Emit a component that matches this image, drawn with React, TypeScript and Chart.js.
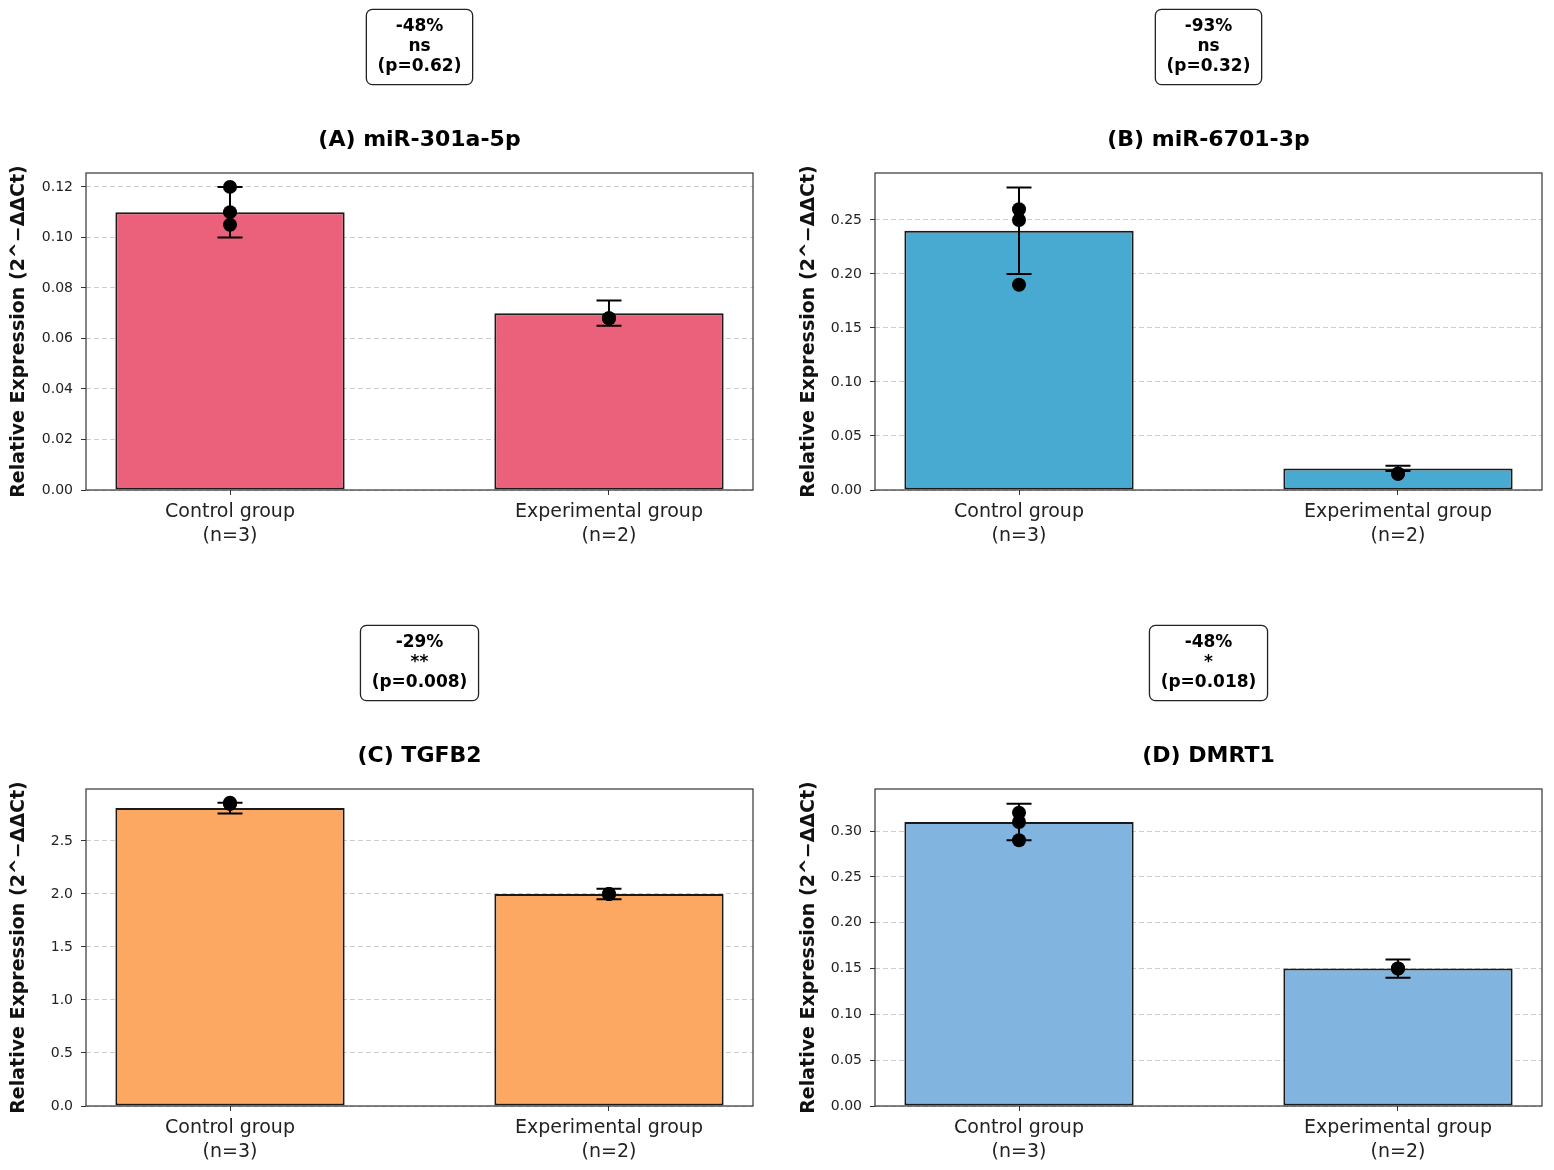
import React, { useEffect, useRef } from "react";
import { Chart, registerables } from "chart.js";

Chart.register(...registerables);

const FONT = "'DejaVu Sans', 'Liberation Sans', sans-serif";

// ---- data ----
const categories = ["Control group", "Experimental group"];
const groupSizes = ["(n=3)", "(n=2)"];
const xPositions = [0, 1];

const titles = ["(A) miR-301a-5p", "(B) miR-6701-3p", "(C) TGFB2", "(D) DMRT1"];
const changeLabels = ["-48%", "-93%", "-29%", "-48%"];
const sigLabels = ["ns", "ns", "**", "*"];
const pLabels = ["(p=0.62)", "(p=0.32)", "(p=0.008)", "(p=0.018)"];
const barColors = ["#EB607A", "#48AAD1", "#FDA862", "#82B4E0"];
const yAxisTitle = "Relative Expression (2^\u2212\u0394\u0394Ct)";

const meansA = [0.11, 0.07];
const sdA = [0.01, 0.005];
const ctrlPointsA = [0.12, 0.11, 0.105];
const expPointsA = [0.068, 0.068];
const yMaxA = 0.1255;
const yTicksA = [0, 0.02, 0.04, 0.06, 0.08, 0.1, 0.12];

const meansB = [0.24, 0.02];
const sdB = [0.04, 0.0025];
const ctrlPointsB = [0.26, 0.25, 0.19];
const expPointsB = [0.015, 0.015];
const yMaxB = 0.2935;
const yTicksB = [0, 0.05, 0.1, 0.15, 0.2, 0.25];

const meansC = [2.81, 2.0];
const sdC = [0.05, 0.05];
const ctrlPointsC = [2.86, 2.85, 2.85];
const expPointsC = [2.0, 2.0];
const yMaxC = 2.99;
const yTicksC = [0, 0.5, 1.0, 1.5, 2.0, 2.5];

const meansD = [0.31, 0.15];
const sdD = [0.02, 0.01];
const ctrlPointsD = [0.32, 0.31, 0.29];
const expPointsD = [0.15, 0.15];
const yMaxD = 0.346;
const yTicksD = [0, 0.05, 0.1, 0.15, 0.2, 0.25, 0.3];

const tickDecimals = [2, 2, 1, 2];

const panels = [
  { means: meansA, sd: sdA, ctrl: ctrlPointsA, exp: expPointsA, yMax: yMaxA, yTicks: yTicksA },
  { means: meansB, sd: sdB, ctrl: ctrlPointsB, exp: expPointsB, yMax: yMaxB, yTicks: yTicksB },
  { means: meansC, sd: sdC, ctrl: ctrlPointsC, exp: expPointsC, yMax: yMaxC, yTicks: yTicksC },
  { means: meansD, sd: sdD, ctrl: ctrlPointsD, exp: expPointsD, yMax: yMaxD, yTicks: yTicksD },
];

const CANVAS_W = 777;
const CANVAS_H = 585;

function Panel({ idx }: { idx: number }) {
  const ref = useRef<HTMLCanvasElement | null>(null);

  useEffect(() => {
    if (!ref.current) return;
    const p = panels[idx];
    const col = idx % 2;
    const row = Math.floor(idx / 2);
    const yWidth = col === 0 ? 86 : 98;
    const padRight = col === 0 ? 24 : 12;
    const padTop = row === 0 ? 173 : 204;
    const xHeight = row === 0 ? 95 : 64;
    const yTitlePad = col === 0 ? 7.6 : 20.9;

    const points = [
      ...p.ctrl.map((v) => ({ x: xPositions[0], y: v })),
      ...p.exp.map((v) => ({ x: xPositions[1], y: v })),
    ];

    const errPlugin = {
      id: "errbars" + idx,
      afterDatasetDraw(chart: any, args: any) {
        if (args.index !== 0) return;
        const { ctx } = chart;
        const xs = chart.scales.x;
        const ys = chart.scales.y;
        ctx.save();
        ctx.strokeStyle = "#000";
        ctx.lineWidth = 2;
        p.means.forEach((m: number, i: number) => {
          const px = xs.getPixelForValue(xPositions[i]);
          const yt = ys.getPixelForValue(m + p.sd[i]);
          const yb = ys.getPixelForValue(m - p.sd[i]);
          const cap = 12.5;
          ctx.beginPath();
          ctx.moveTo(px, yt);
          ctx.lineTo(px, yb);
          ctx.moveTo(px - cap, yt);
          ctx.lineTo(px + cap, yt);
          ctx.moveTo(px - cap, yb);
          ctx.lineTo(px + cap, yb);
          ctx.stroke();
        });
        ctx.restore();
      },
    };

    const decorPlugin = {
      id: "decor" + idx,
      afterDraw(chart: any) {
        const { ctx, chartArea } = chart;
        const { left, right, top, bottom } = chartArea;
        ctx.save();
        // frame
        ctx.strokeStyle = "#333";
        ctx.lineWidth = 1.2;
        ctx.strokeRect(left, top, right - left, bottom - top);

        const cx = (left + right) / 2;
        // title
        ctx.fillStyle = "#000";
        ctx.textAlign = "center";
        ctx.textBaseline = "middle";
        ctx.font = `bold 22px ${FONT}`;
        ctx.fillText(titles[idx], cx, top - 33);

        // annotation box
        ctx.font = `bold 17px ${FONT}`;
        const lines = [changeLabels[idx], sigLabels[idx], pLabels[idx]];
        const centers = [top - 146.3, top - 126.3, top - 106];
        const maxW = Math.max(...lines.map((l) => ctx.measureText(l).width));
        const bw = maxW + 22.4;
        const bx = cx - bw / 2;
        const by = centers[0] - 17.3;
        const bh = centers[2] + 17.6 - by;
        const r = 6;
        ctx.beginPath();
        ctx.moveTo(bx + r, by);
        ctx.lineTo(bx + bw - r, by);
        ctx.arcTo(bx + bw, by, bx + bw, by + r, r);
        ctx.lineTo(bx + bw, by + bh - r);
        ctx.arcTo(bx + bw, by + bh, bx + bw - r, by + bh, r);
        ctx.lineTo(bx + r, by + bh);
        ctx.arcTo(bx, by + bh, bx, by + bh - r, r);
        ctx.lineTo(bx, by + r);
        ctx.arcTo(bx, by, bx + r, by, r);
        ctx.closePath();
        ctx.fillStyle = "#fff";
        ctx.fill();
        ctx.strokeStyle = "#222";
        ctx.lineWidth = 1.3;
        ctx.stroke();
        ctx.fillStyle = "#000";
        lines.forEach((l, i) => ctx.fillText(l, cx, centers[i]));
        ctx.restore();
      },
    };

    const chart = new Chart(ref.current, {
      type: "bar",
      data: {
        datasets: [
          {
            type: "bar",
            data: p.means.map((m: number, i: number) => ({ x: xPositions[i], y: m })),
            backgroundColor: barColors[idx],
            borderColor: "#1a1a1a",
            borderWidth: 2,
            borderSkipped: false,
            barPercentage: 0.605,
            categoryPercentage: 1.0,
            order: 2,
          } as any,
          {
            type: "scatter",
            data: points,
            pointRadius: 7,
            pointHoverRadius: 7,
            pointBackgroundColor: "#000",
            pointBorderColor: "#000",
            pointBorderWidth: 0,
            showLine: false,
            order: 0,
          } as any,
        ],
      },
      options: {
        animation: false,
        responsive: false,
        maintainAspectRatio: false,
        events: [],
        layout: { padding: { top: padTop, right: padRight, bottom: 0, left: 0 } },
        plugins: {
          legend: { display: false },
          tooltip: { enabled: false },
          title: { display: false },
        },
        scales: {
          x: {
            type: "linear",
            min: -0.38,
            max: 1.38,
            offset: false,
            afterBuildTicks: (s: any) => {
              s.ticks = xPositions.map((v) => ({ value: v }));
            },
            afterFit: (s: any) => {
              s.height = xHeight;
            },
            ticks: {
              autoSkip: false,
              maxRotation: 0,
              minRotation: 0,
              padding: 5,
              color: "#222",
              font: { family: FONT, size: 19, lineHeight: 1.25 },
              callback: (_v: any, i: number) => [categories[i], groupSizes[i]],
            },
            grid: {
              offset: false,
              drawOnChartArea: false,
              drawTicks: true,
              tickLength: 5,
              tickColor: "#333",
              tickWidth: 1,
            },
            border: { display: false },
          } as any,
          y: {
            type: "linear",
            min: 0,
            max: p.yMax,
            afterBuildTicks: (s: any) => {
              s.ticks = p.yTicks.map((v: number) => ({ value: v }));
            },
            afterFit: (s: any) => {
              s.width = yWidth;
            },
            ticks: {
              padding: 8,
              color: "#222",
              font: { family: FONT, size: 14 },
              callback: (v: any) => Number(v).toFixed(tickDecimals[idx]),
            },
            grid: {
              color: "rgba(0,0,0,0.2)",
              lineWidth: 1,
              drawTicks: true,
              tickLength: 5,
              tickColor: "#333",
              tickWidth: 1,
              tickBorderDash: [],
            },
            border: { display: false, dash: [5, 3] },
            title: {
              display: true,
              text: yAxisTitle,
              color: "#111",
              font: { family: FONT, size: 19, weight: "bold", lineHeight: 1.2 },
              padding: { top: yTitlePad, bottom: 0 },
            },
          } as any,
        },
      },
      plugins: [errPlugin, decorPlugin],
    } as any);

    return () => chart.destroy();
  }, [idx]);

  const col = idx % 2;
  const row = Math.floor(idx / 2);
  return (
    <canvas
      ref={ref}
      width={CANVAS_W}
      height={CANVAS_H}
      style={{
        position: "absolute",
        left: col * CANVAS_W,
        top: row * CANVAS_H,
        width: CANVAS_W,
        height: CANVAS_H,
      }}
    />
  );
}

export default function App() {
  useEffect(() => {
    document.body.style.margin = "0";
    document.body.style.overflow = "hidden";
  }, []);
  return (
    <div
      style={{
        position: "absolute",
        left: 0,
        top: 0,
        width: 1554,
        height: 1170,
        background: "#fff",
        overflow: "hidden",
      }}
    >
      {[0, 1, 2, 3].map((i) => (
        <Panel key={i} idx={i} />
      ))}
    </div>
  );
}
